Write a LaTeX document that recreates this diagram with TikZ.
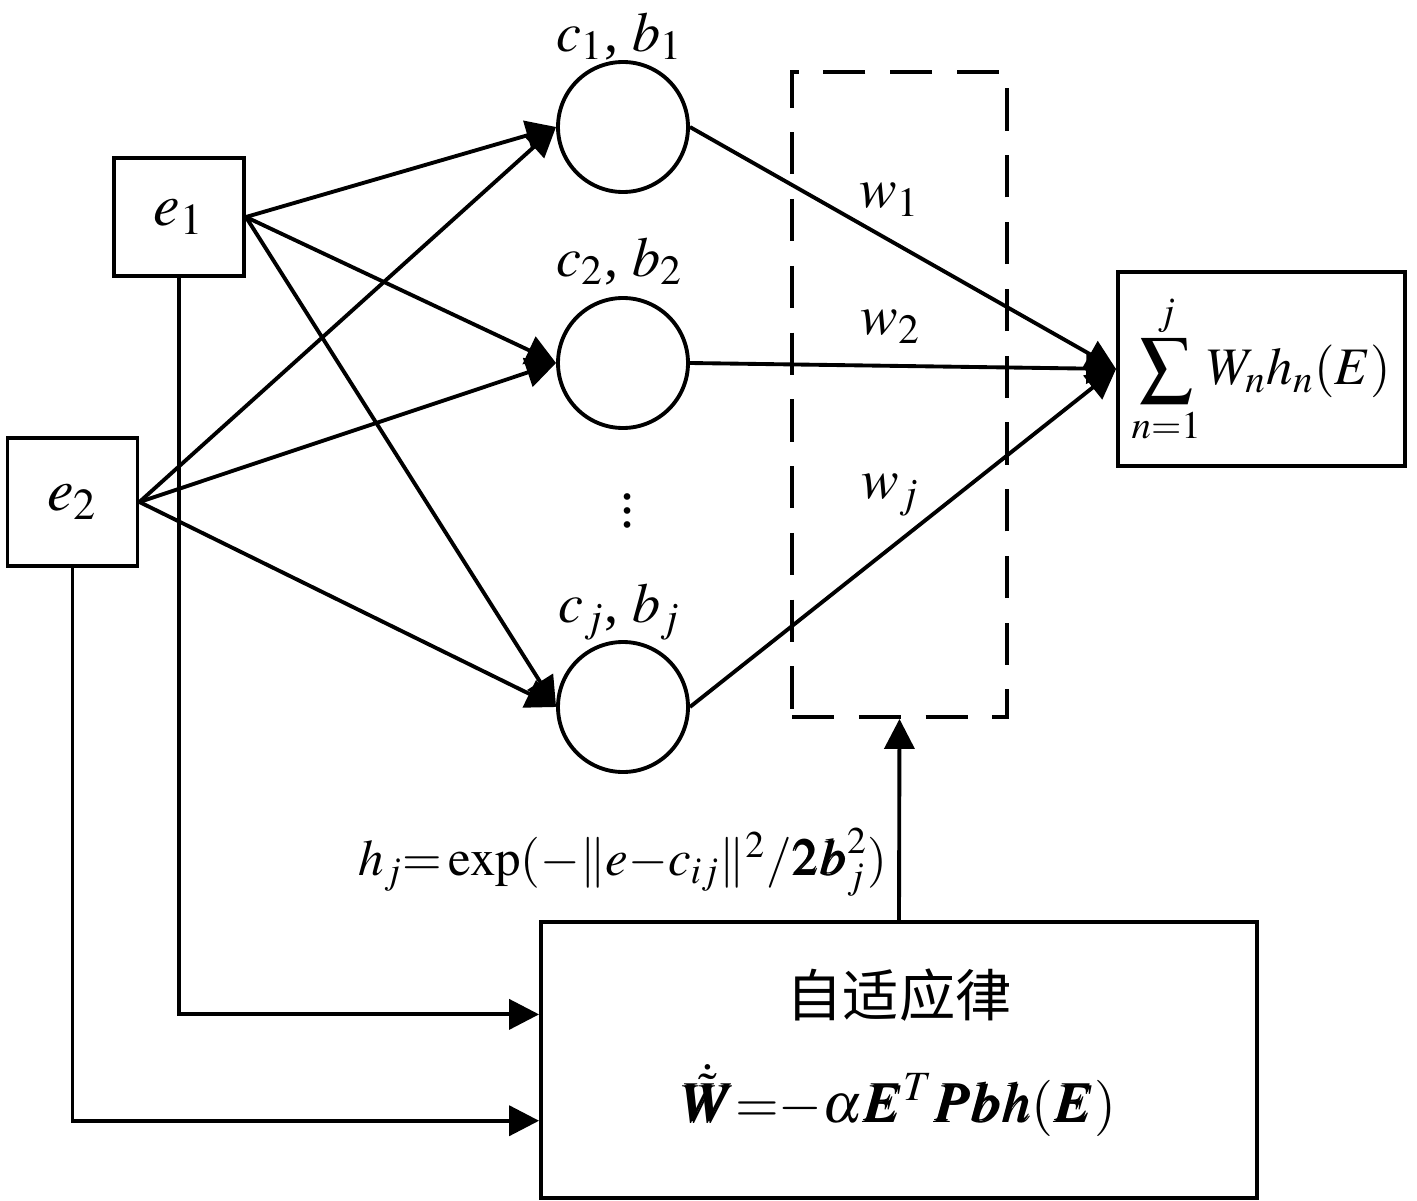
\documentclass[tikz,border=0pt]{standalone}
\usepackage{amsmath}
\usepackage{mathptmx}
\usepackage{bm}
\usepackage[no-math]{fontspec}
\setmainfont{Liberation Serif}
\newfontfamily\cjk{Noto Sans CJK SC}
\usetikzlibrary{arrows.meta,positioning,calc}

\begin{document}
\begin{tikzpicture}[line width=1.1pt, >={Triangle[length=8.5pt,width=8.5pt]},
    inbox/.style={draw, inner sep=0pt, minimum width=1.3cm, font=\fontsize{17}{20}\selectfont},
    neuron/.style={draw, circle, minimum size=1.3cm, inner sep=0pt},
    lbl/.style={font=\fontsize{16}{19}\selectfont}]
    \useasboundingbox (0, 0) rectangle (14.17, -12.01);

    \node[inbox, minimum height=1.18cm] (e1) at (1.79, -2.17) {$e_1$};
    \node[inbox, minimum height=1.28cm] (e2) at (0.725, -5.02) {$e_2$};

    \node[neuron] (c1) at (6.23, -1.27) {};
    \node[neuron] (c2) at (6.23, -3.63) {};
    \node[neuron] (cj) at (6.23, -7.07) {};
    \node[lbl] (l1) at (6.2, -0.36) {$c_1$, $b_1$};
    \node[lbl] (l2) at (6.2, -2.61) {$c_2$, $b_2$};
    \node[lbl] (lj) at (6.2, -6.12) {$c_j$, $b_j$};
    \node[lbl] (dots) at (6.28, -5.0) {$\vdots$};

    \node[draw, dash pattern=on 12pt off 7pt, minimum width=2.15cm,
      minimum height=6.45cm] (win) at (8.995, -3.945) {};
    \node[lbl] (w1) at (8.9, -2.0) {$w_1$};
    \node[lbl] (w2) at (8.91, -3.27) {$w_2$};
    \node[lbl] (wj) at (8.91, -4.95) {$w_j$};

    \node[draw, inner sep=0pt, minimum width=2.87cm, minimum height=1.94cm,
      font=\fontsize{15}{18}\selectfont] (sum) at (12.615, -3.69)
      {$\displaystyle\sum_{n=1}^{j} W_n h_n(E)$};

    \node[draw, minimum width=7.16cm, minimum height=2.76cm] (ada) at (8.99, -10.6) {};
    \node[font=\fontsize{16}{19}\selectfont\cjk] (law) at (8.99, -9.95) {自适应律};
    \node[font=\fontsize{16}{19}\selectfont] (wdot) at (8.99, -11.0)
      {$\dot{\tilde{\bm W}}{=}{-}\alpha\bm{E}^T\bm{P}\bm{b}\bm{h}(\bm{E})$};

    \node[font=\fontsize{14.5}{17}\selectfont] (hfun) at (6.23, -8.62)
      {$h_j{=}\exp(-\|e{-}c_{ij}\|^2/\bm{2b}_j^2)$};

    \foreach \src in {e1, e2}
      \foreach \dst in {c1, c2, cj}
        \draw[->] (\src.east) -- (\dst.west);
    \foreach \n in {c1, c2, cj}
      \draw[->] (\n.east) -- (sum.west);

    \draw[->] (e1.south) |- ($(ada.north west)!0.337!(ada.south west)$);
    \draw[->] (e2.south) |- ($(ada.north west)!0.717!(ada.south west)$);
    \draw[->] (ada.north) -- (win.south);
\end{tikzpicture}
\end{document}
